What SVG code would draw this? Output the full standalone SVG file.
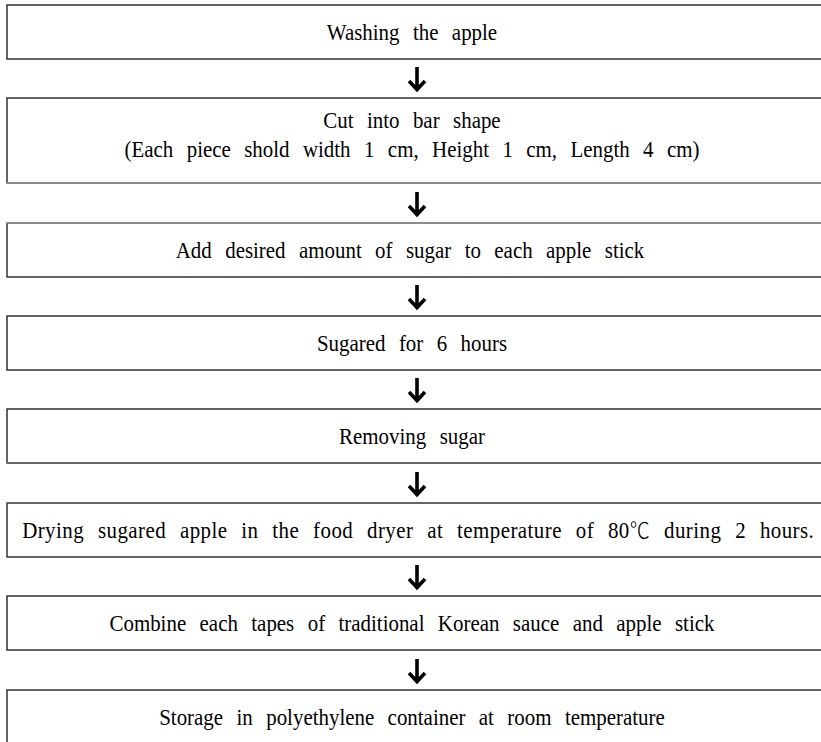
<svg xmlns="http://www.w3.org/2000/svg" width="821" height="742" viewBox="0 0 821 742">
<defs>
<style>
.box{fill:#fff;stroke:#111;stroke-width:1.3}
.gl{stroke:#8a8a8a;stroke-width:2}
.t{font-family:"Liberation Serif","Times New Roman",serif;font-size:23px;fill:#000;text-anchor:middle;word-spacing:9px;transform-box:fill-box;transform-origin:center;transform:scaleX(0.91)}
.c{font-family:"Noto Sans CJK KR","Noto Sans CJK SC",sans-serif;font-weight:300;font-size:22px}
.arr{fill:none;stroke:#000;stroke-width:3.6}
</style>
</defs>
<rect width="821" height="742" fill="#fff"/>
<g id="n1"><rect class="box" x="7" y="5" width="830" height="54"/><text class="t" x="412" y="40">Washing the apple</text></g>
<g id="n2"><rect class="box" x="7" y="98" width="830" height="85"/><line class="gl" x1="7" y1="183" x2="821" y2="183"/><text class="t" x="412" y="128">Cut into bar shape</text><text class="t" x="412" y="157">(Each piece shold width 1 cm, Height 1 cm, Length 4 cm)</text></g>
<g id="n3"><rect class="box" x="7" y="223" width="830" height="54"/><line class="gl" x1="7" y1="223" x2="821" y2="223"/><text class="t" x="410" y="258">Add desired amount of sugar to each apple stick</text></g>
<g id="n4"><rect class="box" x="7" y="316" width="830" height="54"/><text class="t" x="412" y="351">Sugared for 6 hours</text></g>
<g id="n5"><rect class="box" x="7" y="409" width="830" height="54"/><line class="gl" x1="7" y1="463" x2="821" y2="463" style="stroke:#666;stroke-width:1.5"/><text class="t" x="412" y="444">Removing sugar</text></g>
<g id="n6"><rect class="box" x="7" y="503" width="830" height="54"/><line class="gl" x1="7" y1="503" x2="821" y2="503" style="stroke:#666;stroke-width:1.5"/><text class="t" x="418" y="538" textLength="870" lengthAdjust="spacing">Drying sugared apple in the food dryer at temperature of 80<tspan class="c">℃</tspan>  during 2 hours.</text></g>
<g id="n7"><rect class="box" x="7" y="596" width="830" height="54"/><text class="t" x="412" y="631">Combine each tapes of traditional Korean sauce and apple stick</text></g>
<g id="n8"><rect class="box" x="7" y="690" width="830" height="80"/><text class="t" x="412" y="725">Storage in polyethylene container at room temperature</text></g>
<g id="connectors">
<path class="arr" d="M417 67V89M409 81L417 89.5L425 81"/>
<path class="arr" d="M417 192V214M409 206L417 214.5L425 206"/>
<path class="arr" d="M417 285V307M409 299L417 307.5L425 299"/>
<path class="arr" d="M417 378V400M409 392L417 400.5L425 392"/>
<path class="arr" d="M417 472V494M409 486L417 494.5L425 486"/>
<path class="arr" d="M417 565V587M409 579L417 587.5L425 579"/>
<path class="arr" d="M417 659V681M409 673L417 681.5L425 673"/>
</g>
</svg>
